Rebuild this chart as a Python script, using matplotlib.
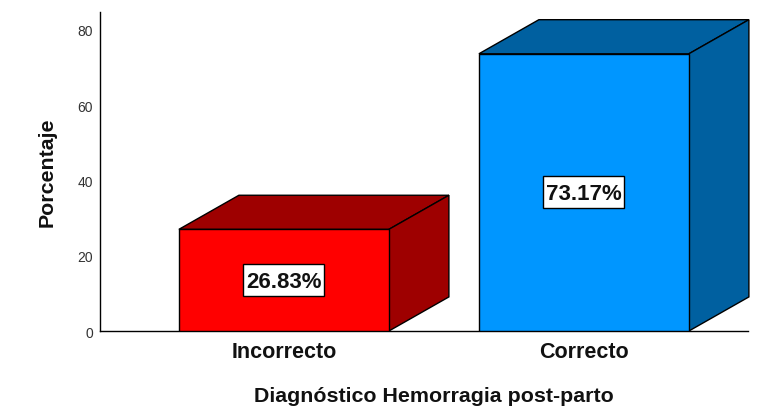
import matplotlib
matplotlib.use("Agg")
import matplotlib.pyplot as plt
from matplotlib.patches import Polygon, Rectangle
from matplotlib.transforms import ScaledTranslation

# Values
categories = ["Incorrecto", "Correcto"]
percentages = [26.83, 73.17]
value_labels = ["26.83%", "73.17%"]
y_ticks = [0, 20, 40, 60, 80]

front_colors = ["#ff0000", "#0096ff"]
dark_colors = ["#9e0000", "#0060a0"]

plt.rcParams["font.family"] = ["Liberation Sans", "DejaVu Sans"]

W, H = 760, 408
fig = plt.figure(figsize=(W / 100, H / 100), dpi=100)
ax = fig.add_axes([100 / W, 1 - 331 / H, 648 / W, 319 / H])

ax.set_xlim(-0.613, 1.547)
ax.set_ylim(0, 84.2)

bar_width = 0.7
depth_x = 0.2
depth_y = 9.0
box_w = 0.27
box_h = 8.44
edge = 1.0

for i, value in enumerate(percentages):
    left = i - bar_width / 2
    right = i + bar_width / 2
    ax.bar(i, value, width=bar_width, color=front_colors[i], edgecolor="black",
           linewidth=edge, zorder=3)
    # top face
    ax.add_patch(Polygon([(left, value), (left + depth_x, value + depth_y),
                          (right + depth_x, value + depth_y), (right, value)],
                         facecolor=dark_colors[i], edgecolor="black", linewidth=edge,
                         zorder=2, clip_on=False))
    # side face
    ax.add_patch(Polygon([(right, 0), (right + depth_x, depth_y),
                          (right + depth_x, value + depth_y), (right, value)],
                         facecolor=dark_colors[i], edgecolor="black", linewidth=edge,
                         zorder=2, clip_on=False))
    # value label with its box
    ax.add_patch(Rectangle((i - box_w / 2, value / 2 - box_h / 2), box_w, box_h,
                           facecolor="white", edgecolor="black", linewidth=edge, zorder=4))
    ax.text(i, value / 2, value_labels[i], ha="center", va="center_baseline", fontsize=16,
            fontweight="bold", color="#111111", zorder=5)

for side in ["top", "right"]:
    ax.spines[side].set_visible(False)
for side in ["left", "bottom"]:
    ax.spines[side].set_linewidth(1.0)

ax.set_yticks(y_ticks)
ax.set_xticks(range(len(categories)))
ax.set_xticklabels(categories, fontsize=15.5, fontweight="bold", color="#111111")
ax.tick_params(axis="x", length=0, pad=8)
ax.tick_params(axis="y", length=0, pad=5, labelsize=10, labelcolor="#333333")

# tick labels drift a little from the bar scale in the original
for n, label in enumerate(ax.get_yticklabels()):
    shift = ScaledTranslation(0, -(1.2 + 1.8 * n / 4) / 100, fig.dpi_scale_trans)
    label.set_transform(label.get_transform() + shift)

ax.set_ylabel("Porcentaje", fontsize=15.4, fontweight="bold", color="#111111", va="center")
ax.yaxis.set_label_coords(-53 / 648, 0.497)
ax.set_xlabel("Diagnóstico Hemorragia post-parto", fontsize=15.4, fontweight="bold",
              color="#111111", va="center")
ax.xaxis.set_label_coords(0.515, -66 / 319)

fig.savefig("out.png", dpi=100)
